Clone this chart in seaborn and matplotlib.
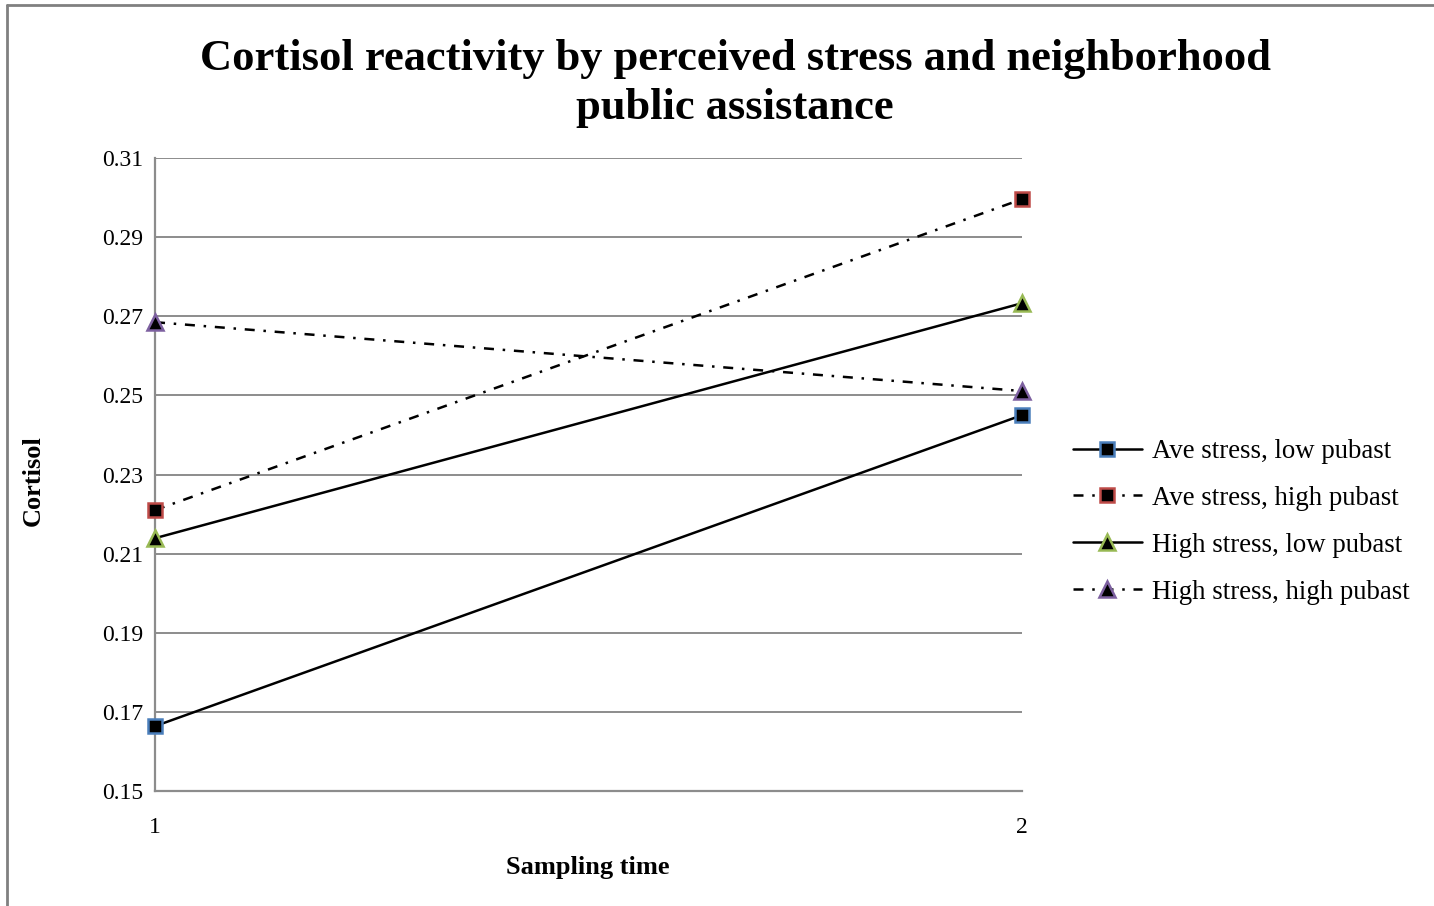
import matplotlib
matplotlib.use("Agg")
import matplotlib.pyplot as plt
import seaborn as sns
import pandas as pd
from matplotlib.lines import Line2D

# Data
sampling_time = [1, 2]
ave_low = [0.1664, 0.2450]
ave_high = [0.2210, 0.2996]
high_low = [0.2139, 0.2733]
high_high = [0.2685, 0.2511]
series_names = ["Ave stress, low pubast", "Ave stress, high pubast",
                "High stress, low pubast", "High stress, high pubast"]
y_ticks = [0.15, 0.17, 0.19, 0.21, 0.23, 0.25, 0.27, 0.29, 0.31]
x_tick_labels = ["1", "2"]

sns.set_theme(style="white")
plt.rcParams['font.family'] = ['Liberation Serif', 'DejaVu Serif']
for k in ["text.color", "axes.labelcolor", "xtick.color", "ytick.color"]:
    plt.rcParams[k] = "black"

fig = plt.figure(figsize=(14.34, 9.06), dpi=100)
ax = fig.add_axes([0.1081, 0.1269, 0.7127 - 0.1081, 0.8256 - 0.1269])

styles = [
    dict(marker="s", mec="#4A7EBB", dashed=False, ms=10),
    dict(marker="s", mec="#BE4B48", dashed=True, ms=10),
    dict(marker="^", mec="#98B954", dashed=False, ms=11),
    dict(marker="^", mec="#7D60A0", dashed=True, ms=11),
]
values = [ave_low, ave_high, high_low, high_high]
LW = 1.8

handles = []
for name, vals, st in zip(series_names, values, styles):
    df = pd.DataFrame({"time": sampling_time, "cortisol": vals})
    ls = (0, (4, 3.5, 1, 3.5)) if st["dashed"] else "-"
    sns.lineplot(data=df, x="time", y="cortisol", ax=ax, color="black",
                 linewidth=LW, linestyle=ls, marker=st["marker"],
                 markersize=st["ms"], markerfacecolor="black",
                 markeredgecolor=st["mec"], markeredgewidth=1.8,
                 clip_on=False, zorder=5)
    handles.append(Line2D([0], [0], color="black", linewidth=LW, linestyle=ls,
                          marker=st["marker"], markersize=st["ms"],
                          markerfacecolor="black", markeredgecolor=st["mec"],
                          markeredgewidth=1.8))

ax.set_xlim(1, 2)
ax.set_ylim(0.15, 0.31)
ax.set_xticks(sampling_time)
ax.set_xticklabels(x_tick_labels, fontsize=17)
ax.set_yticks(y_ticks)
ax.set_yticklabels([f"{v:.2f}" for v in y_ticks], fontsize=17)
ax.tick_params(axis="y", pad=8.5, length=0)
ax.tick_params(axis="x", pad=19, length=0)
ax.grid(axis="y", color="#8C8C8C", linewidth=1.4)
ax.grid(axis="x", visible=False)
for s in ["top", "right"]:
    ax.spines[s].set_visible(False)
for s in ["left", "bottom"]:
    ax.spines[s].set_color("#8C8C8C")
    ax.spines[s].set_linewidth(1.6)

ax.set_xlabel("Sampling time", fontsize=19, fontweight="bold")
ax.set_ylabel("Cortisol", fontsize=19, fontweight="bold")
ax.xaxis.set_label_coords(0.499, -0.103)
ax.yaxis.set_label_coords(-0.127, 0.49)

fig.text(0.5126, 0.957, "Cortisol reactivity by perceived stress and neighborhood\npublic assistance",
         ha="center", va="top", fontsize=32, fontweight="bold", linespacing=1.28)

leg = fig.legend(handles=handles, labels=series_names, loc="center left",
                 bbox_to_anchor=(0.748, 0.424), frameon=False, fontsize=19.3,
                 handlelength=2.6, labelspacing=0.82, handletextpad=0.35,
                 borderpad=0, borderaxespad=0)

# Outer border (partially visible in reference)
fig.add_artist(Line2D([7/1434, 1], [1 - 5/906, 1 - 5/906], color="#808080", linewidth=2, transform=fig.transFigure))
fig.add_artist(Line2D([7/1434, 7/1434], [0, 1 - 5/906], color="#808080", linewidth=2, transform=fig.transFigure))

fig.savefig("out.png", dpi=100, facecolor="white")
